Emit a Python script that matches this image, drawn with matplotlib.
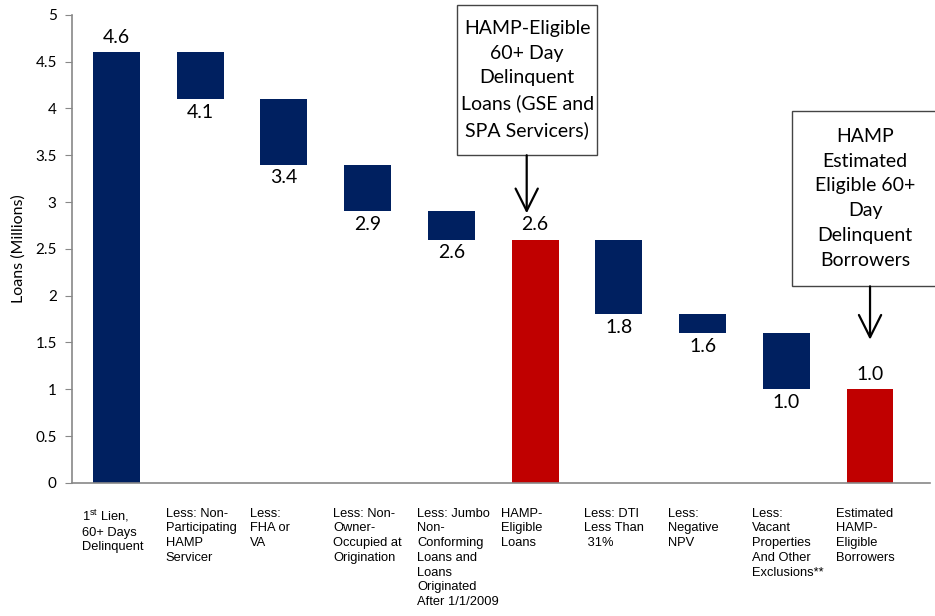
import matplotlib
matplotlib.use('Agg')
import matplotlib.pyplot as plt
from matplotlib import font_manager
from matplotlib.patches import Rectangle
from matplotlib.transforms import blended_transform_factory

# categories (x labels) and waterfall values
labels = [
    '1$^{\\mathregular{st}}$ Lien,\n60+ Days\nDelinquent',
    'Less: Non-\nParticipating\nHAMP\nServicer',
    'Less:\nFHA or\nVA',
    'Less: Non-\nOwner-\nOccupied at\nOrigination',
    'Less: Jumbo\nNon-\nConforming\nLoans and\nLoans\nOriginated\nAfter 1/1/2009',
    'HAMP-\nEligible\nLoans',
    'Less: DTI\nLess Than\n 31%',
    'Less:\nNegative\nNPV',
    'Less:\nVacant\nProperties\nAnd Other\nExclusions**',
    'Estimated\nHAMP-\nEligible\nBorrowers',
]
tops = [4.6, 4.6, 4.1, 3.4, 2.9, 2.6, 2.6, 1.8, 1.6, 1.0]
bottoms = [0, 4.1, 3.4, 2.9, 2.6, 0, 1.8, 1.6, 1.0, 0]
is_total = [True, False, False, False, False, True, False, False, False, True]
value_text = ['4.6', '4.1', '3.4', '2.9', '2.6', '2.6', '1.8', '1.6', '1.0', '1.0']

callout1 = 'HAMP-Eligible\n60+ Day\nDelinquent\nLoans (GSE and\nSPA Servicers)'
callout2 = 'HAMP\nEstimated\nEligible 60+\nDay\nDelinquent\nBorrowers'

navy = '#002060'
red = '#C00000'

names = {f.name for f in font_manager.fontManager.ttflist}
main_font = ['Lato', 'DejaVu Sans'] if 'Lato' in names else ['DejaVu Sans']
small_font = ['Liberation Sans', 'DejaVu Sans']
plt.rcParams['font.family'] = main_font

fig = plt.figure(figsize=(9.35, 6.16), dpi=100)
ax = fig.add_axes([0.077, 0.216, 0.918, 0.76])

x = list(range(len(tops)))
heights = [t - b for t, b in zip(tops, bottoms)]
colors = [red if (is_total[i] and i > 0) else navy for i in x]
ax.bar(x, heights, bottom=bottoms, width=0.56, color=colors)

for i in x:
    if is_total[i]:
        ax.text(i, tops[i] + 0.07, value_text[i], ha='center', va='bottom', fontsize=14)
    else:
        ax.text(i, bottoms[i] - 0.05, value_text[i], ha='center', va='top', fontsize=14)

ax.set_xlim(-0.53, 9.72)
ax.set_ylim(0, 5)
ax.set_yticks([0, 0.5, 1, 1.5, 2, 2.5, 3, 3.5, 4, 4.5, 5])
ax.set_yticklabels(['0', '0.5', '1', '1.5', '2', '2.5', '3', '3.5', '4', '4.5', '5'])
ax.set_xticks([])
ax.tick_params(axis='y', labelsize=11, length=5, color='#888888', pad=6)
ax.set_ylabel('Loans (Millions)', fontsize=11.5)
ax.yaxis.set_label_coords(-0.054, 0.5)
for s in ['top', 'right']:
    ax.spines[s].set_visible(False)
for s in ['left', 'bottom']:
    ax.spines[s].set_color('#888888')
    ax.spines[s].set_linewidth(1.2)

trans = blended_transform_factory(ax.transData, ax.transAxes)
for i, lab in enumerate(labels):
    ax.text(i - 0.41, -0.053, lab, transform=trans, ha='left', va='top',
            fontsize=9.3, family=small_font, linespacing=1.3)

# callout boxes with arrows
arrow = dict(arrowstyle='->,head_length=0.8,head_width=0.4', lw=1.6, color='black',
             mutation_scale=20, shrinkA=0, shrinkB=0)

ax.add_patch(Rectangle((4.07, 3.50), 1.67, 1.6, fc='white', ec='#444444', lw=1,
                       clip_on=False, zorder=3))
ax.text(4.905, 4.31, callout1, ha='center', va='center', fontsize=14,
        linespacing=1.55, zorder=4, clip_on=False)
ax.annotate('', xy=(4.9, 2.88), xytext=(4.9, 3.50), arrowprops=arrow)

ax.add_patch(Rectangle((8.07, 2.10), 1.75, 1.87, fc='white', ec='#444444', lw=1,
                       clip_on=False, zorder=3))
ax.text(8.94, 3.04, callout2, ha='center', va='center', fontsize=14,
        linespacing=1.55, zorder=4, clip_on=False)
ax.annotate('', xy=(9.0, 1.53), xytext=(9.0, 2.10), arrowprops=arrow)

fig.savefig('out.png', dpi=100)
